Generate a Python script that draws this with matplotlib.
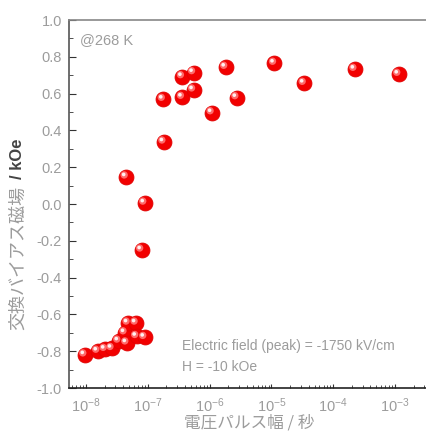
import matplotlib.pyplot as plt
import matplotlib.transforms as mtransforms
from matplotlib.ticker import LogLocator, MultipleLocator, NullFormatter
import numpy as np

plt.rcParams['font.family'] = ['Liberation Sans', 'Noto Sans CJK JP', 'DejaVu Sans']
plt.rcParams['mathtext.fontset'] = 'custom'
plt.rcParams['mathtext.rm'] = 'Liberation Sans'
plt.rcParams['mathtext.it'] = 'Liberation Sans:italic'
plt.rcParams['mathtext.bf'] = 'Liberation Sans:bold'
plt.rcParams['axes.unicode_minus'] = False

# pulse width (s) and exchange bias field (kOe)
pulse_width = [10**-8.02, 10**-7.81, 10**-7.69, 10**-7.58, 10**-7.47, 10**-7.37,
               10**-7.32, 10**-7.19, 10**-7.34, 10**-7.18, 10**-7.05,
               10**-7.35, 10**-7.10, 10**-7.05, 10**-6.74, 10**-6.75,
               10**-6.44, 10**-6.26, 10**-6.44, 10**-6.26, 10**-5.96,
               10**-5.74, 10**-5.56, 10**-4.95, 10**-4.47, 10**-3.65, 10**-2.94]
bias_field = [-0.82, -0.80, -0.79, -0.785, -0.745, -0.70,
              -0.647, -0.647, -0.755, -0.72, -0.725,
              0.147, -0.25, 0.005, 0.337, 0.569,
              0.692, 0.714, 0.58, 0.62, 0.496,
              0.743, 0.578, 0.765, 0.656, 0.732, 0.705]
ytick_vals = [-1.0, -0.8, -0.6, -0.4, -0.2, 0.0, 0.2, 0.4, 0.6, 0.8, 1.0]
ytick_text = ['-1.0', '-0.8', '-0.6', '-0.4', '-0.2', '0.0',
              '0.2', '0.4', '0.6', '0.8', '1.0']

gray = '#9c9c9c'
jp = ['Noto Sans CJK JP', 'DejaVu Sans']

fig = plt.figure(figsize=(4.27, 4.37), dpi=100)
ax = fig.add_axes([69 / 427, 49 / 437, 360 / 427, 368 / 437])

ax.set_xscale('log')
ax.set_xlim(10**-8.275, 10**-2.45)
ax.set_ylim(-1.0, 1.0)

# shiny red spheres
ax.scatter(pulse_width, bias_field, s=115, color='#f20000', edgecolors='#e00000',
           linewidths=0.6, zorder=3)
hl = mtransforms.offset_copy(ax.transData, fig=fig, x=-2, y=2, units='dots')
ax.scatter(pulse_width, bias_field, s=28, color='#ff6a6a', edgecolors='none',
           transform=hl, zorder=4)
hl2 = mtransforms.offset_copy(ax.transData, fig=fig, x=-2.5, y=2.5, units='dots')
ax.scatter(pulse_width, bias_field, s=7, color='#fff0f0', edgecolors='none',
           transform=hl2, zorder=5)

ax.set_yticks(ytick_vals)
ax.set_yticklabels(ytick_text)
ax.yaxis.set_minor_locator(MultipleLocator(0.1))
ax.xaxis.set_major_locator(LogLocator(base=10, numticks=20))
ax.xaxis.set_minor_locator(LogLocator(base=10, subs=np.arange(2, 10), numticks=20))
ax.xaxis.set_minor_formatter(NullFormatter())

ax.tick_params(axis='both', which='both', direction='in', colors='#333333',
               labelcolor=gray, labelsize=10.5)
ax.tick_params(axis='y', which='major', length=5, pad=5)
ax.tick_params(axis='y', which='minor', length=3)
ax.tick_params(axis='x', which='major', length=3, pad=6)
ax.tick_params(axis='x', which='minor', length=2)
ax.tick_params(top=False, right=False, which='both')

ax.spines['left'].set_color('#555555')
ax.spines['bottom'].set_color('#222222')
ax.spines['top'].set_color('#888888')
ax.spines['right'].set_visible(False)
for s in ax.spines.values():
    s.set_linewidth(1.2)

ax.set_xlabel('電圧パルス幅 / 秒', color=gray, fontsize=12, labelpad=0, family=jp)

# y label: japanese part gray, unit part bold dark
ax.text(-0.142, 0.158, '交換バイアス磁場', transform=ax.transAxes, rotation=90,
        color=gray, fontsize=13, ha='center', va='bottom', family=jp)
ax.text(-0.142, 0.568, '/ kOe', transform=ax.transAxes, rotation=90,
        color='#444444', fontsize=12, fontweight='bold', ha='center', va='bottom')

ax.text(0.03, 0.965, '@268 K', transform=ax.transAxes, color=gray, fontsize=10.5,
        va='top', ha='left')
ax.text(0.315, 0.115, 'Electric field (peak) = -1750 kV/cm', transform=ax.transAxes,
        color=gray, fontsize=10, va='center', ha='left')
ax.text(0.315, 0.058, 'H = -10 kOe', transform=ax.transAxes,
        color=gray, fontsize=10, va='center', ha='left')

fig.savefig('out.png', dpi=100)
